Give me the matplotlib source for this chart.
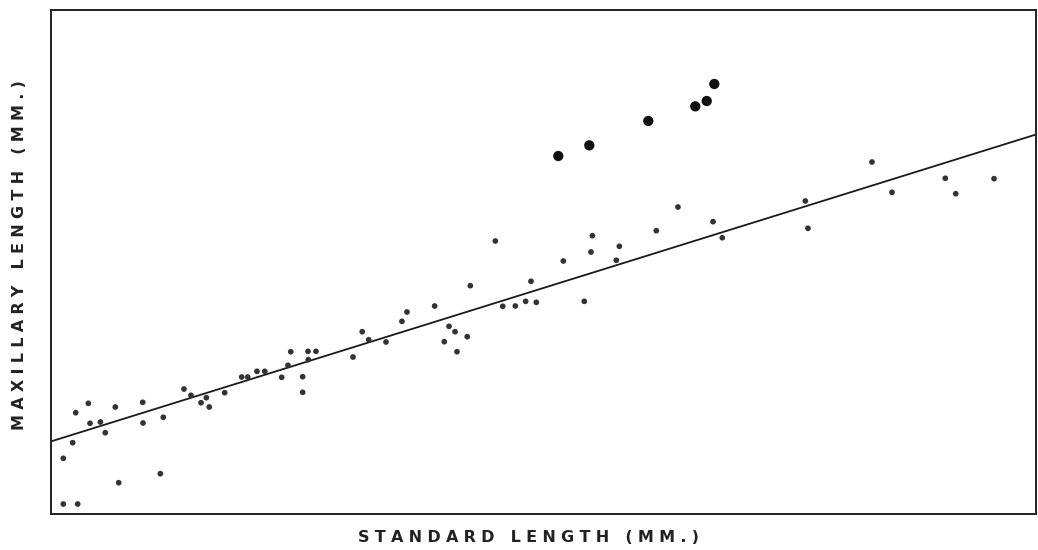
import matplotlib
matplotlib.use("Agg")
import matplotlib.pyplot as plt
import numpy as np

# Standard length (x) and maxillary length (y), arbitrary chart units
small_x = [1.25, 2.20, 1.25, 2.71, 2.51, 3.79, 3.96, 5.01, 5.51, 6.53, 6.87, 9.31, 9.34,
           11.40, 11.10, 13.50, 14.21, 15.23, 15.77, 16.07, 17.63, 19.36, 19.97, 20.91,
           21.70, 23.42, 24.06, 24.34, 25.55, 25.55, 26.09, 26.12, 26.90, 30.66, 31.60,
           32.25, 34.01, 35.63, 36.14, 38.95, 39.93, 40.41, 41.02, 41.22, 42.26, 42.57,
           45.11, 45.86, 47.14, 48.19, 49.27, 48.73, 52.01, 54.14, 54.82, 54.96, 57.39,
           57.70, 61.45, 63.65, 67.21, 68.15, 76.58, 76.85, 83.35, 85.38, 90.79, 91.85,
           95.74]
small_y = [11.05, 14.15, 1.98, 1.98, 20.10, 21.96, 18.00, 18.25, 16.13, 21.23, 6.21, 22.16,
           18.06, 19.19, 8.00, 24.80, 23.55, 22.08, 23.08, 21.23, 24.07, 27.18, 27.18, 28.31,
           28.31, 27.12, 29.50, 32.20, 27.24, 24.15, 32.28, 30.62, 32.28, 31.15, 36.17,
           34.58, 34.13, 38.23, 40.08, 41.27, 34.19, 37.24, 36.17, 32.20, 35.18, 45.30,
           54.17, 41.21, 41.27, 42.20, 42.00, 46.17, 50.20, 42.20, 51.98, 55.22, 50.34,
           53.12, 56.21, 60.91, 58.00, 54.82, 62.10, 56.69, 69.84, 63.83, 66.61, 63.55,
           66.53]

large_x = [51.50, 54.65, 60.64, 65.41, 66.57, 67.34]
large_y = [71.03, 73.15, 77.98, 80.89, 81.94, 85.32]

line_x = [0.0, 100.0]
line_y = [14.4, 75.3]

x_label = "STANDARD LENGTH (MM.)"
y_label = "MAXILLARY LENGTH (MM.)"


def spaced(s, sep="\u2004"):
    return sep.join(s)


fig = plt.figure(figsize=(10.38, 5.5), dpi=100)
ax = fig.add_axes([51 / 1038, 36 / 550, 985 / 1038, 504 / 550])
ax.set_xlim(0, 100)
ax.set_ylim(0, 100)

ax.plot(line_x, line_y, color="#1a1a1a", lw=1.3, zorder=2)
ax.scatter(small_x, small_y, s=17, color="#333333", edgecolors="none", zorder=3)
ax.scatter(large_x, large_y, s=55, color="#111111", edgecolors="none", zorder=3)

ax.set_xticks([])
ax.set_yticks([])
for sp in ax.spines.values():
    sp.set_linewidth(1.4)
    sp.set_color("#222222")

fig.text(528 / 1038, 1 - 538 / 550, spaced(x_label), ha="center", va="center",
         fontsize=11.5, fontweight="bold", color="#222222", family="DejaVu Sans")
fig.text(20 / 1038, 1 - 255 / 550, spaced(y_label), ha="center", va="center", rotation=90,
         fontsize=11.5, fontweight="bold", color="#222222", family="DejaVu Sans")

fig.savefig("out.png", dpi=100, facecolor="white")
